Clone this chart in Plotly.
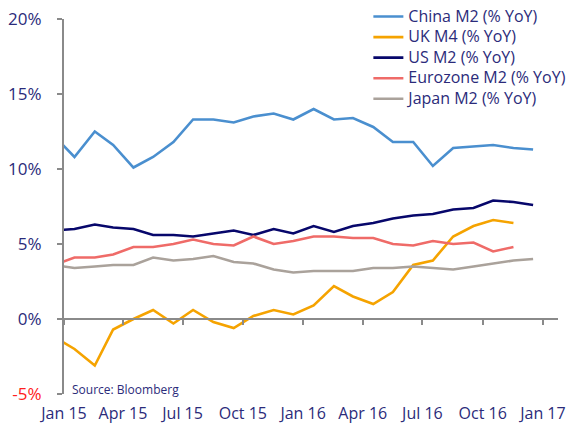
import pandas as pd
import plotly.graph_objects as go

# Monthly observations Dec 2014 .. Dec 2016 (25 months)
month_starts = pd.date_range("2014-12-01", periods=25, freq="MS")
dates = month_starts + pd.Timedelta(days=16)

china_m2 = [12.2, 10.8, 12.5, 11.6, 10.1, 10.8, 11.8, 13.3, 13.3, 13.1, 13.5, 13.7, 13.3,
            14.0, 13.3, 13.4, 12.8, 11.8, 11.8, 10.2, 11.4, 11.5, 11.6, 11.4, 11.3]
uk_m4 = [-1.2, -2.0, -3.1, -0.7, 0.0, 0.6, -0.3, 0.6, -0.2, -0.6, 0.2, 0.6, 0.3,
         0.9, 2.2, 1.5, 1.0, 1.8, 3.6, 3.9, 5.5, 6.2, 6.6, 6.4, None]
us_m2 = [5.9, 6.0, 6.3, 6.1, 6.0, 5.6, 5.6, 5.5, 5.7, 5.9, 5.6, 6.0, 5.7,
         6.2, 5.8, 6.2, 6.4, 6.7, 6.9, 7.0, 7.3, 7.4, 7.9, 7.8, 7.6]
eurozone_m2 = [3.6, 4.1, 4.1, 4.3, 4.8, 4.8, 5.0, 5.3, 5.0, 4.9, 5.5, 5.0, 5.2,
               5.5, 5.5, 5.4, 5.4, 5.0, 4.9, 5.2, 5.0, 5.1, 4.5, 4.8, None]
japan_m2 = [3.6, 3.4, 3.5, 3.6, 3.6, 4.1, 3.9, 4.0, 4.2, 3.8, 3.7, 3.3, 3.1,
            3.2, 3.2, 3.2, 3.4, 3.4, 3.5, 3.4, 3.3, 3.5, 3.7, 3.9, 4.0]

series_names = ["China M2 (% YoY)", "UK M4 (% YoY)", "US M2 (% YoY)",
                "Eurozone M2 (% YoY)", "Japan M2 (% YoY)"]
series_values = [china_m2, uk_m4, us_m2, eurozone_m2, japan_m2]
series_colors = ["#4a8fcf", "#f5a300", "#07076b", "#ef6b68", "#aaa29b"]

y_tick_vals = [-5, 0, 5, 10, 15, 20]
y_tick_text = ["<span style='color:#ff2020'>-5%</span>", "0%", "5%", "10%", "15%", "20%"]

NAVY = "#2b2b7a"
AXIS = "#8a8a8a"
FONT = "Open Sans"

fig = go.Figure()
for name, vals, col in zip(series_names, series_values, series_colors):
    fig.add_trace(go.Scatter(x=dates, y=vals, mode="lines",
                             name="<span style='font-size:16px'>" + name + "</span>",
                             line=dict(color=col, width=2.6), connectgaps=False))

# dummy trace to realise the zero-line axis
fig.add_trace(go.Scatter(x=[], y=[], xaxis="x2", showlegend=False, hoverinfo="skip"))

x_range = ["2015-01-01", "2017-01-24"]

fig.update_layout(
    width=572, height=424,
    margin=dict(l=64, r=14, t=19, b=30, autoexpand=False),
    paper_bgcolor="white", plot_bgcolor="white",
    font=dict(family=FONT, color=NAVY, size=16),
    showlegend=True,
    legend=dict(x=0.644, y=0.997, xref="container", yref="container",
                xanchor="left", yanchor="top",
                bgcolor="rgba(0,0,0,0)", font=dict(size=13.5, color=NAVY),
                tracegroupgap=0, itemwidth=30),
    xaxis=dict(type="date", range=x_range, tick0="2015-01-01", dtick="M3",
               tickformat="%b %y", showline=False, showgrid=False, zeroline=False,
               ticks="", ticklabelstandoff=8, automargin=False,
               tickfont=dict(size=16, color=NAVY)),
    xaxis2=dict(type="date", range=x_range, tick0="2015-01-01", dtick="M3",
                overlaying="x", anchor="free", position=0.2, side="bottom",
                showline=True, linecolor=AXIS, linewidth=2, ticks="outside",
                ticklen=5, tickcolor=AXIS, tickwidth=1.5, showticklabels=False,
                showgrid=False, zeroline=False),
    yaxis=dict(range=[-5, 20], tickvals=y_tick_vals, ticktext=y_tick_text,
               showline=True, linecolor=AXIS, linewidth=2, ticks="outside",
               ticklen=5, tickcolor=AXIS, tickwidth=1.5, showgrid=False,
               zeroline=False, ticklabelstandoff=12, automargin=False,
               tickfont=dict(size=17, color=NAVY)),
    annotations=[dict(text="Source: Bloomberg", x=0.012, y=0.012, xref="paper", yref="paper",
                      xanchor="left", yanchor="middle", showarrow=False,
                      font=dict(size=12, color=NAVY))],
)

fig.write_html("out.html", config={"displayModeBar": False},
               post_script="document.body.style.margin='0';document.body.style.overflow='hidden';")
